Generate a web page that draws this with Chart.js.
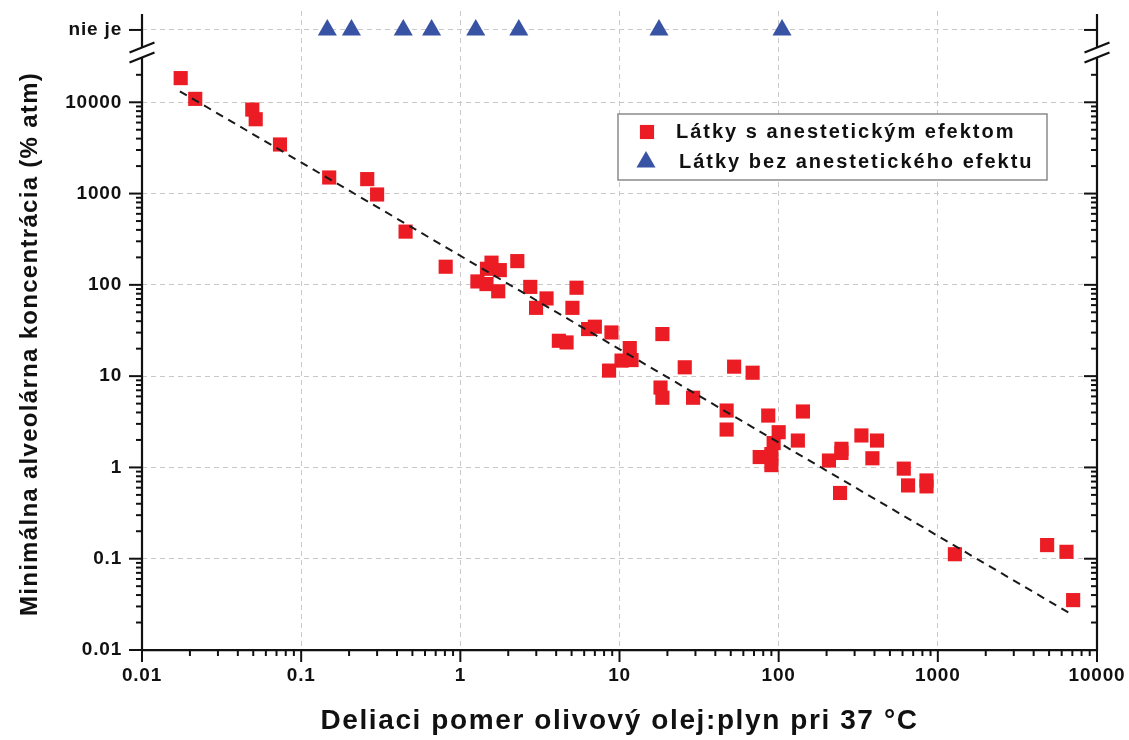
<!DOCTYPE html>
<html>
<head>
<meta charset="utf-8">
<script src="https://cdn.jsdelivr.net/npm/chart.js@4.4.0/dist/chart.umd.min.js"></script>
<style>
  html, body { margin: 0; padding: 0; background: #fff; }
  #chart { display: block; }
</style>
</head>
<body>
<canvas id="chart" width="1129" height="740"></canvas>
<script>
// substances with anesthetic effect (oil:gas partition, MAC % atm)
const ANESTHETIC_X = [0.0175, 0.0216, 0.0493, 0.0518, 0.0736, 0.150, 0.260, 0.300, 0.453, 0.809,
  1.57, 1.77, 1.47, 2.28, 1.28, 1.46, 1.73, 2.75, 3.48, 2.99, 5.37, 5.06, 4.16, 4.65, 6.35, 7.0,
  8.9, 18.6, 11.6, 10.3, 11.9, 8.6, 25.7, 52.5, 68.6, 18.1, 18.6, 29, 47.1, 47.1, 86, 142, 100,
  93, 76, 90, 90, 132, 331, 415, 388, 248, 248, 207, 243, 611, 650, 849, 849, 1280, 4860, 6430, 7080];
const ANESTHETIC_Y = [18400, 10900, 8320, 6520, 3450, 1500, 1440, 977, 383, 158,
  175, 145, 150, 182, 109, 102, 85, 95, 71, 56, 93, 56, 24.4, 23.4, 32.8, 34.8,
  30.1, 28.9, 20.3, 14.8, 15.0, 11.5, 12.5, 12.7, 10.9, 7.5, 5.8, 5.8, 4.2, 2.6, 3.7, 4.1, 2.43,
  1.85, 1.3, 1.4, 1.06, 1.97, 2.24, 1.97, 1.26, 1.6, 1.44, 1.19, 0.525, 0.97, 0.635, 0.72, 0.62, 0.112, 0.141, 0.119, 0.0352];

// substances without anesthetic effect, shown on the "nie je" row
const NON_ANESTHETIC_X = [0.146, 0.207, 0.438, 0.660, 1.25, 2.33, 17.7, 105];
const NIE_JE = 62000;

// dashed regression line end points
const FIT_X = [0.0173, 6700];
const FIT_Y = [13200, 0.0254];

const DECADES_X = [0.01, 0.1, 1, 10, 100, 1000, 10000];
const X_TICK_LABELS = ['0.01', '0.1', '1', '10', '100', '1000', '10000'];
const DECADES_Y = [0.01, 0.1, 1, 10, 100, 1000, 10000];
const Y_TICK_LABELS = ['0.01', '0.1', '1', '10', '100', '1000', '10000'];
const NIE_JE_LABEL = 'nie je';
const LEGEND_LABELS = ['Látky s anestetickým efektom', 'Látky bez anestetického efektu'];
const X_TITLE = 'Deliaci pomer olivový olej:plyn pri 37 °C';
const Y_TITLE = 'Minimálna alveolárna koncentrácia (% atm)';

const RED = '#ec1c24';
const BLUE = '#3953a4';
const INK = '#111111';
const GRID = '#c9c9c9';
const FONT = "'Liberation Sans', Arial, sans-serif";

function logTicks(decades) {
  const out = [];
  decades.forEach((d, i) => {
    out.push({ value: d, major: true });
    if (i < decades.length - 1) {
      for (let m = 2; m <= 9; m++) out.push({ value: d * m, major: false });
    }
  });
  return out;
}

const xTicks = logTicks(DECADES_X);
const yTicks = logTicks(DECADES_Y).concat([{ value: 20000, major: false }, { value: NIE_JE, major: true }]);

function drawText(ctx, text, x, y, size, spacing, rotation) {
  ctx.save();
  ctx.translate(x, y);
  if (rotation) ctx.rotate(rotation);
  ctx.letterSpacing = spacing + 'px';
  ctx.font = 'bold ' + size + 'px ' + FONT;
  ctx.fillStyle = INK;
  ctx.textAlign = 'center';
  ctx.textBaseline = 'middle';
  ctx.fillText(text, 0, 0);
  ctx.restore();
}

const frame = {
  id: 'frame',
  beforeUpdate(chart) { chart.ctx.letterSpacing = '0.8px'; },
  beforeDraw(chart) { chart.ctx.letterSpacing = '0.8px'; },
  afterDraw(chart) {
    const { ctx, chartArea: a, scales: { x, y } } = chart;
    const line = (x1, y1, x2, y2) => {
      ctx.beginPath();
      ctx.moveTo(x1, y1);
      ctx.lineTo(x2, y2);
      ctx.stroke();
    };
    ctx.save();
    ctx.strokeStyle = INK;
    ctx.lineWidth = 2;

    // tick marks
    xTicks.forEach((t) => {
      const px = x.getPixelForValue(t.value);
      line(px, a.bottom, px, a.bottom + (t.major ? 12 : 6));
    });
    yTicks.forEach((t) => {
      const py = y.getPixelForValue(t.value);
      const len = t.major ? 13 : 6;
      line(a.left - len, py, a.left, py);
      line(a.right - len, py, a.right, py);
    });

    // left and right axes with the break
    const breakTop = 47.5;
    const breakBottom = 57.5;
    ctx.lineWidth = 2.2;
    [a.left, a.right].forEach((ax) => {
      line(ax, a.top + 3, ax, breakTop);
      line(ax, breakBottom, ax, a.bottom + 1);
      line(ax - 12.5, breakTop + 5, ax + 12.5, breakTop - 5);
      line(ax - 12.5, breakBottom + 5, ax + 12.5, breakBottom - 5);
    });

    // axis titles
    drawText(ctx, Y_TITLE, 30, 344, 24, 1.3, -Math.PI / 2);
    drawText(ctx, X_TITLE, (a.left + a.right) / 2, 721, 28, 1.6, 0);

    // legend
    const box = { left: 618, top: 114, width: 429, height: 66 };
    ctx.fillStyle = '#fff';
    ctx.fillRect(box.left, box.top, box.width, box.height);
    ctx.strokeStyle = '#8a8a8a';
    ctx.lineWidth = 1.5;
    ctx.strokeRect(box.left, box.top, box.width, box.height);
    const rows = [
      { ds: chart.data.datasets[1], mx: 647, tx: 676, y: 132 },
      { ds: chart.data.datasets[2], mx: 646, tx: 679, y: 162 },
    ];
    rows.forEach((r) => {
      ctx.fillStyle = r.ds.backgroundColor;
      Chart.helpers.drawPoint(ctx, {
        pointStyle: r.ds.pointStyle,
        radius: r.ds.pointRadius,
        rotation: 0,
        borderWidth: 0,
      }, r.mx, r.y);
      ctx.fillStyle = INK;
      ctx.font = 'bold 20px ' + FONT;
      ctx.letterSpacing = '2px';
      ctx.textAlign = 'left';
      ctx.textBaseline = 'middle';
      ctx.fillText(r.ds.label, r.tx, r.y);
    });
    ctx.restore();
  },
};

const isIn = (arr) => (ctx) => (ctx.tick && arr.includes(ctx.tick.value) ? GRID : 'rgba(0,0,0,0)');
const tickFont = { family: FONT, size: 19, weight: 'bold' };

new Chart(document.getElementById('chart'), {
  type: 'scatter',
  data: {
    datasets: [
      {
        type: 'line',
        label: 'fit',
        data: FIT_X.map((x, i) => ({ x, y: FIT_Y[i] })),
        borderColor: '#1a1a1a',
        borderWidth: 2,
        borderDash: [8, 6],
        pointRadius: 0,
        fill: false,
        order: 0,
      },
      {
        label: LEGEND_LABELS[0],
        data: ANESTHETIC_X.map((x, i) => ({ x, y: ANESTHETIC_Y[i] })),
        pointStyle: 'rect',
        pointRadius: 10,
        backgroundColor: RED,
        borderWidth: 0,
        order: 1,
      },
      {
        label: LEGEND_LABELS[1],
        data: NON_ANESTHETIC_X.map((x) => ({ x, y: NIE_JE })),
        pointStyle: 'triangle',
        pointRadius: 11,
        backgroundColor: BLUE,
        borderWidth: 0,
        order: 1,
      },
    ],
  },
  options: {
    responsive: false,
    animation: false,
    events: [],
    layout: { padding: { top: 10, right: 32, left: 0, bottom: 0 } },
    plugins: { legend: { display: false }, tooltip: { enabled: false } },
    scales: {
      x: {
        type: 'logarithmic',
        min: 0.01,
        max: 10000,
        afterBuildTicks: (scale) => { scale.ticks = xTicks.map((t) => ({ value: t.value })); },
        afterFit: (scale) => {
          scale.height = 90;
          scale.paddingLeft = 0;
          scale.paddingRight = 0;
        },
        grid: { color: isIn([0.1, 1, 10, 100, 1000]), lineWidth: 1, drawTicks: true, tickLength: 8, tickWidth: 0 },
        border: { display: true, color: INK, width: 2.2, dash: [5, 4] },
        ticks: {
          autoSkip: false,
          maxRotation: 0,
          minRotation: 0,
          padding: 6,
          color: INK,
          font: tickFont,
          callback: (v) => { const i = DECADES_X.indexOf(v); return i >= 0 ? X_TICK_LABELS[i] : ''; },
        },
      },
      y: {
        type: 'logarithmic',
        min: 0.01,
        max: 100000,
        afterBuildTicks: (scale) => { scale.ticks = yTicks.map((t) => ({ value: t.value })); },
        afterFit: (scale) => {
          scale.width = 142;
          scale.paddingTop = 0;
          scale.paddingBottom = 0;
        },
        grid: { color: isIn([0.1, 1, 10, 100, 1000, 10000, NIE_JE]), lineWidth: 1, drawTicks: true, tickLength: 13, tickWidth: 0 },
        border: { display: false, dash: [5, 4] },
        ticks: {
          autoSkip: false,
          padding: 7,
          color: INK,
          font: tickFont,
          callback: (v) => {
            if (v === NIE_JE) return NIE_JE_LABEL;
            const i = DECADES_Y.indexOf(v);
            return i >= 0 ? Y_TICK_LABELS[i] : '';
          },
        },
      },
    },
  },
  plugins: [frame],
});
</script>
</body>
</html>
